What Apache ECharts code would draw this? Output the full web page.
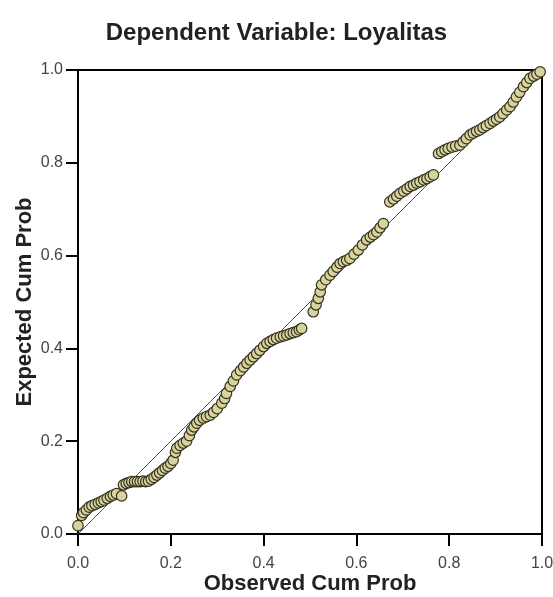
<!DOCTYPE html>
<html>
<head>
<meta charset="utf-8">
<script src="https://cdn.jsdelivr.net/npm/echarts@6/dist/echarts.min.js"></script>
<style>
  html, body { margin: 0; padding: 0; background: #fff; }
  #chart { width: 553px; height: 597px; }
</style>
</head>
<body>
<div id="chart"></div>
<script>
(function() {
    'use strict';

    // 观测累积概率 (x) 与期望累积概率 (y), 读自原图
    var observedCumProb = [
        0.000, 0.008, 0.012, 0.018, 0.024, 0.030, 0.037, 0.044, 0.050, 0.056,
        0.063, 0.070, 0.076, 0.083, 0.094, 0.098, 0.104, 0.110, 0.116, 0.122,
        0.128, 0.134, 0.140, 0.146, 0.152, 0.158, 0.164, 0.170, 0.176, 0.182,
        0.188, 0.194, 0.200, 0.205, 0.210, 0.213, 0.220, 0.227, 0.234, 0.240,
        0.245, 0.250, 0.256, 0.262, 0.270, 0.277, 0.285, 0.292, 0.300, 0.310,
        0.316, 0.320, 0.328, 0.335, 0.342, 0.350, 0.357, 0.364, 0.371, 0.378,
        0.385, 0.392, 0.400, 0.407, 0.414, 0.421, 0.428, 0.436, 0.443, 0.450,
        0.457, 0.464, 0.471, 0.477, 0.482, 0.507, 0.513, 0.518, 0.522, 0.525,
        0.534, 0.543, 0.550, 0.558, 0.565, 0.572, 0.579, 0.586, 0.595, 0.604,
        0.613, 0.622, 0.630, 0.637, 0.644, 0.651, 0.658, 0.672, 0.680, 0.687,
        0.694, 0.702, 0.709, 0.716, 0.723, 0.730, 0.737, 0.745, 0.752, 0.759,
        0.766, 0.777, 0.784, 0.791, 0.798, 0.806, 0.814, 0.823, 0.830, 0.837,
        0.845, 0.852, 0.859, 0.866, 0.873, 0.880, 0.888, 0.895, 0.902, 0.909,
        0.916, 0.924, 0.931, 0.938, 0.945, 0.952, 0.960, 0.967, 0.974, 0.982,
        0.989, 0.996
    ];
    var expectedCumProb = [
        0.018, 0.040, 0.046, 0.052, 0.058, 0.061, 0.064, 0.067, 0.070, 0.073,
        0.077, 0.081, 0.084, 0.087, 0.082, 0.106, 0.109, 0.111, 0.113, 0.113,
        0.113, 0.113, 0.114, 0.113, 0.114, 0.118, 0.122, 0.127, 0.132, 0.137,
        0.142, 0.146, 0.152, 0.159, 0.176, 0.185, 0.191, 0.196, 0.200, 0.212,
        0.224, 0.231, 0.239, 0.245, 0.250, 0.253, 0.256, 0.262, 0.270, 0.282,
        0.292, 0.303, 0.318, 0.330, 0.343, 0.352, 0.360, 0.368, 0.375, 0.382,
        0.389, 0.396, 0.404, 0.411, 0.415, 0.419, 0.422, 0.425, 0.427, 0.429,
        0.432, 0.434, 0.436, 0.440, 0.443, 0.479, 0.494, 0.508, 0.522, 0.537,
        0.548, 0.558, 0.566, 0.575, 0.583, 0.587, 0.590, 0.594, 0.603, 0.612,
        0.623, 0.634, 0.640, 0.645, 0.651, 0.660, 0.669, 0.716, 0.722, 0.728,
        0.734, 0.739, 0.744, 0.749, 0.752, 0.756, 0.759, 0.763, 0.766, 0.770,
        0.774, 0.820, 0.824, 0.828, 0.831, 0.834, 0.836, 0.838, 0.845, 0.852,
        0.860, 0.864, 0.868, 0.871, 0.876, 0.880, 0.885, 0.890, 0.894, 0.899,
        0.906, 0.914, 0.921, 0.931, 0.942, 0.952, 0.964, 0.973, 0.982, 0.987,
        0.991, 0.996
    ];
    // 对角参考线
    var refLine = [[0, 0], [1, 1]];
    var tickValues = [0, 0.2, 0.4, 0.6, 0.8, 1.0];

    var points = observedCumProb.map(function(x, i) {
        return [x, expectedCumProb[i]];
    });

    var font = '"Liberation Sans", Arial, sans-serif';

    var axisCommon = {
        type: 'value',
        min: tickValues[0],
        max: tickValues[tickValues.length - 1],
        interval: 0.2,
        nameLocation: 'middle',
        nameMoveOverlap: false,
        nameTextStyle: { fontFamily: font, fontSize: 22, fontWeight: 'bold', color: '#222' },
        axisLine: { show: true, onZero: false, lineStyle: { color: '#000', width: 2 } },
        axisTick: { show: true, inside: false, length: 12, lineStyle: { color: '#000', width: 2 } },
        axisLabel: {
            fontFamily: font, fontSize: 16, color: '#444',
            formatter: function(v) { return v.toFixed(1); }
        },
        splitLine: { show: false }
    };

    var chart = echarts.init(document.getElementById('chart'), null, { renderer: 'canvas' });

    chart.setOption({
        animation: false,
        backgroundColor: '#fff',
        title: {
            text: 'Dependent Variable: Loyalitas',
            left: 'center',
            top: 16,
            textStyle: { fontFamily: font, fontSize: 24, fontWeight: 'bold', color: '#222' }
        },
        grid: {
            left: 78, top: 70, width: 464, height: 464,
            containLabel: false,
            outerBoundsMode: 'none',
            show: true, borderColor: '#000', borderWidth: 2
        },
        xAxis: Object.assign({}, axisCommon, {
            name: 'Observed Cum Prob',
            nameGap: 39,
            axisLabel: Object.assign({}, axisCommon.axisLabel, { margin: 22 })
        }),
        yAxis: Object.assign({}, axisCommon, {
            name: 'Expected Cum Prob',
            nameGap: 42,
            axisLabel: Object.assign({}, axisCommon.axisLabel, { margin: 15 })
        }),
        series: [{
            type: 'line',
            data: refLine,
            symbol: 'none',
            silent: true,
            lineStyle: { color: '#555', width: 1 },
            z: 2
        }, {
            type: 'scatter',
            data: points,
            symbol: 'circle',
            symbolSize: 10.5,
            itemStyle: { color: '#d8d29c', borderColor: '#34321f', borderWidth: 1.2, opacity: 1 },
            z: 3
        }]
    });
})();
</script>
</body>
</html>
